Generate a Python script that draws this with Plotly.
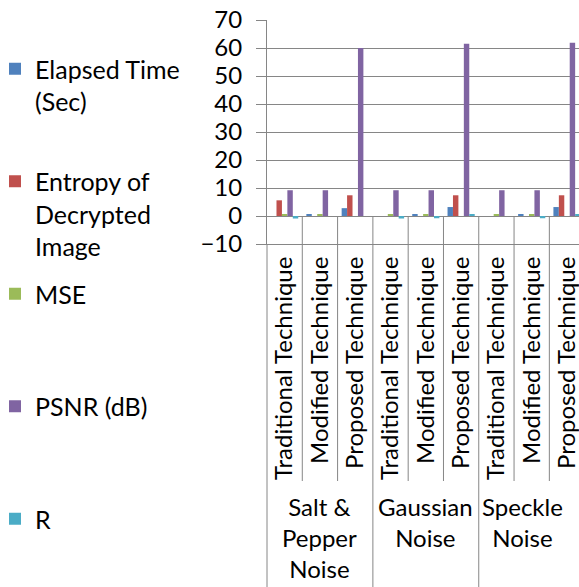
import plotly.graph_objects as go

# Category labels (inner level: technique, outer level: noise type)
techniques = ["Traditional Technique", "Modified Technique", "Proposed Technique"] * 3
noise_groups = ["Salt &<br>Pepper<br>Noise", "Gaussian<br>Noise", "Speckle<br>Noise"]

# Series values, one per technique/noise combination
elapsed_time = [0.0, 0.5, 2.8, 0.0, 0.5, 3.2, 0.0, 0.5, 3.2]
entropy = [5.6, 0.0, 7.4, 0.0, 0.0, 7.4, 0.0, 0.0, 7.4]
mse = [0.6, 0.6, 0.0, 0.6, 0.6, 0.0, 0.5, 0.6, 0.0]
psnr = [9.2, 9.2, 60.0, 9.2, 9.2, 61.5, 9.2, 9.2, 61.9]
corr_r = [-0.9, 0.0, 0.0, -0.9, -0.8, 0.5, 0.0, -0.8, 0.5]

series_names = ["Elapsed Time<br>(Sec)", "Entropy of<br>Decrypted<br>Image", "MSE", "PSNR (dB)", "R"]
series_values = [elapsed_time, entropy, mse, psnr, corr_r]
colors = ["#4F81BD", "#C0504D", "#9BBB59", "#8064A2", "#4BACC6"]

y_ticks = list(range(-10, 71, 10))

FONT = "Lato"
FS = 24
GRID = "#868686"

x_pos = list(range(len(techniques)))

fig = go.Figure()
for name, vals, col in zip(series_names, series_values, colors):
    # pad every legend entry to three lines so entries are evenly spaced
    n_lines = name.count("<br>") + 1
    label = name + "<br>&nbsp;" * (3 - n_lines)
    fig.add_trace(go.Bar(
        x=x_pos, y=vals, name=label, legendgroup=name,
        marker=dict(color=col, line=dict(width=0)),
    ))

W, H = 579, 587
ml, mt, mb = 267, 20, 343
plot_w = W - ml
plot_h = H - mt - mb

def py(pix):
    """pixel row -> paper y"""
    return (H - mb - pix) / plot_h

shapes = []
# separators between techniques: from the zero line down through the label row
for k in range(len(techniques) - 1):
    b = k + 0.5
    long_line = (k + 1) % 3 == 0
    shapes.append(dict(type="line", xref="x", yref="paper",
                       x0=b, x1=b, y0=10 / 80, y1=py(587 if long_line else 481),
                       line=dict(color=GRID, width=1)))
# left edge of the category table
shapes.append(dict(type="line", xref="paper", yref="paper", x0=0, x1=0,
                   y0=0, y1=py(587), line=dict(color=GRID, width=1)))

annotations = []
group_centers = [1.0, 4.0, 6.75]
for gx, gtxt in zip(group_centers, noise_groups):
    annotations.append(dict(x=gx, xref="x", y=py(490), yref="paper",
                            text=gtxt, showarrow=False, yanchor="top",
                            xanchor="center", align="center",
                            font=dict(family=FONT, size=FS, color="#000000")))

fig.update_layout(
    width=W, height=H,
    margin=dict(l=ml, r=0, t=mt, b=mb, pad=0, autoexpand=False),
    paper_bgcolor="white", plot_bgcolor="white",
    barmode="group", bargap=0.23, bargroupgap=0,
    font=dict(family=FONT, size=FS, color="#000000"),
    showlegend=True,
    legend=dict(xref="paper", x=-(ml + 5) / plot_w, yref="container", y=1 - 46 / H,
                xanchor="left", yanchor="top", valign="top",
                tracegroupgap=12, bgcolor="rgba(0,0,0,0)", maxheight=H,
                font=dict(family=FONT, size=25, color="#000000")),
    xaxis=dict(range=[-0.5, 8.34], tickmode="array", tickvals=x_pos,
               ticktext=techniques, tickangle=-90, ticks="",
               showgrid=False, zeroline=False, showline=True,
               linecolor=GRID, linewidth=1, ticklabelstandoff=2,
               ticklabeloverflow="allow", automargin=False,
               tickfont=dict(family=FONT, size=FS, color="#000000")),
    yaxis=dict(range=[-10, 70], tickmode="array", tickvals=y_ticks,
               showgrid=True, gridcolor=GRID, gridwidth=1,
               zeroline=True, zerolinecolor=GRID, zerolinewidth=1,
               showline=True, linecolor=GRID, linewidth=1,
               ticks="outside", ticklen=10, tickcolor=GRID,
               ticklabelstandoff=9, automargin=False,
               tickfont=dict(family=FONT, size=FS, color="#000000")),
    shapes=shapes, annotations=annotations,
)

fig.write_html("out.html")
